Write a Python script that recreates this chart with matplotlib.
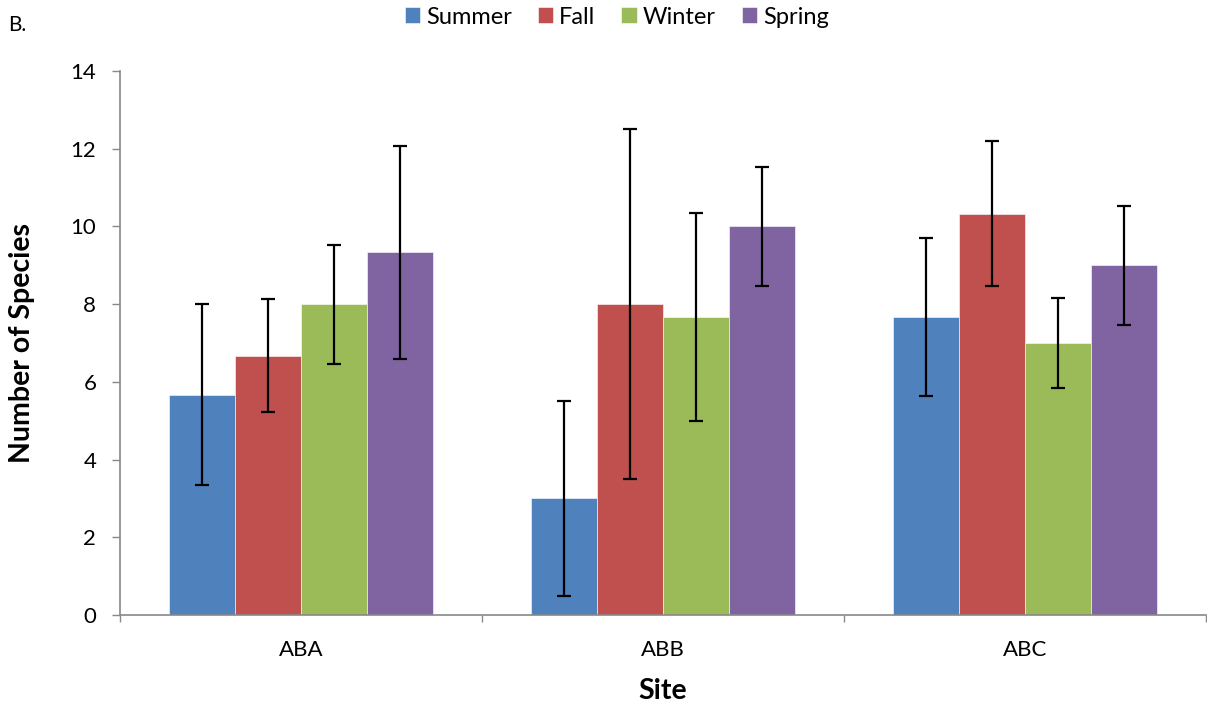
import matplotlib.pyplot as plt
import numpy as np

plt.rcParams['font.family'] = ['Lato', 'DejaVu Sans']

# Data
sites = ['ABA', 'ABB', 'ABC']
seasons = ['Summer', 'Fall', 'Winter', 'Spring']
colors = ['#4F81BD', '#C0504D', '#9BBB59', '#8064A2']

summer = [5.67, 3.0, 7.67]
fall = [6.67, 8.0, 10.33]
winter = [8.0, 7.67, 7.0]
spring = [9.33, 10.0, 9.0]

summer_err = [2.33, 2.5, 2.03]
fall_err = [1.45, 4.5, 1.87]
winter_err = [1.53, 2.67, 1.15]
spring_err = [2.73, 1.53, 1.53]

values = [summer, fall, winter, spring]
errors = [summer_err, fall_err, winter_err, spring_err]

fig = plt.figure(figsize=(12.07, 7.09), dpi=100)
ax = fig.add_axes([0.0994, 0.1326, 0.9, 0.7673])

x = np.arange(len(sites))
width = 0.182
for i, (season, vals, errs, c) in enumerate(zip(seasons, values, errors, colors)):
    ax.bar(x + (i - 1.5) * width, vals, width, color=c, label=season,
           edgecolor='white', linewidth=0.4,
           yerr=errs, error_kw=dict(ecolor='black', elinewidth=1.6, capsize=5, capthick=1.6))

ax.set_xlim(-0.5, 2.5)
ax.set_ylim(0, 14)
ax.set_yticks(range(0, 15, 2))
ax.set_xticks(x)
ax.set_xticklabels(sites)
ax.set_xticks([-0.5, 0.5, 1.5, 2.5], minor=True)
ax.tick_params(axis='x', which='major', length=0, pad=18, labelsize=16)
ax.tick_params(axis='x', which='minor', length=5, color='#888888', width=1)
ax.tick_params(axis='y', length=6, color='#888888', width=1, labelsize=16, pad=11)

for s in ['top', 'right']:
    ax.spines[s].set_visible(False)
for s in ['left', 'bottom']:
    ax.spines[s].set_color('#888888')
    ax.spines[s].set_linewidth(1.2)

ax.set_ylabel('Number of Species', fontsize=20.5, fontweight='bold', labelpad=26)
ax.set_xlabel('Site', fontsize=20.5, fontweight='bold', labelpad=13)

fig.text(0.007, 0.965, 'B.', fontsize=15, va='center')
fig.legend(loc='center', bbox_to_anchor=(0.511, 0.976), ncol=4, frameon=False,
           fontsize=17, handlelength=0.65, handleheight=0.65, handletextpad=0.25,
           columnspacing=1.1)

fig.savefig('out.png', dpi=100)
